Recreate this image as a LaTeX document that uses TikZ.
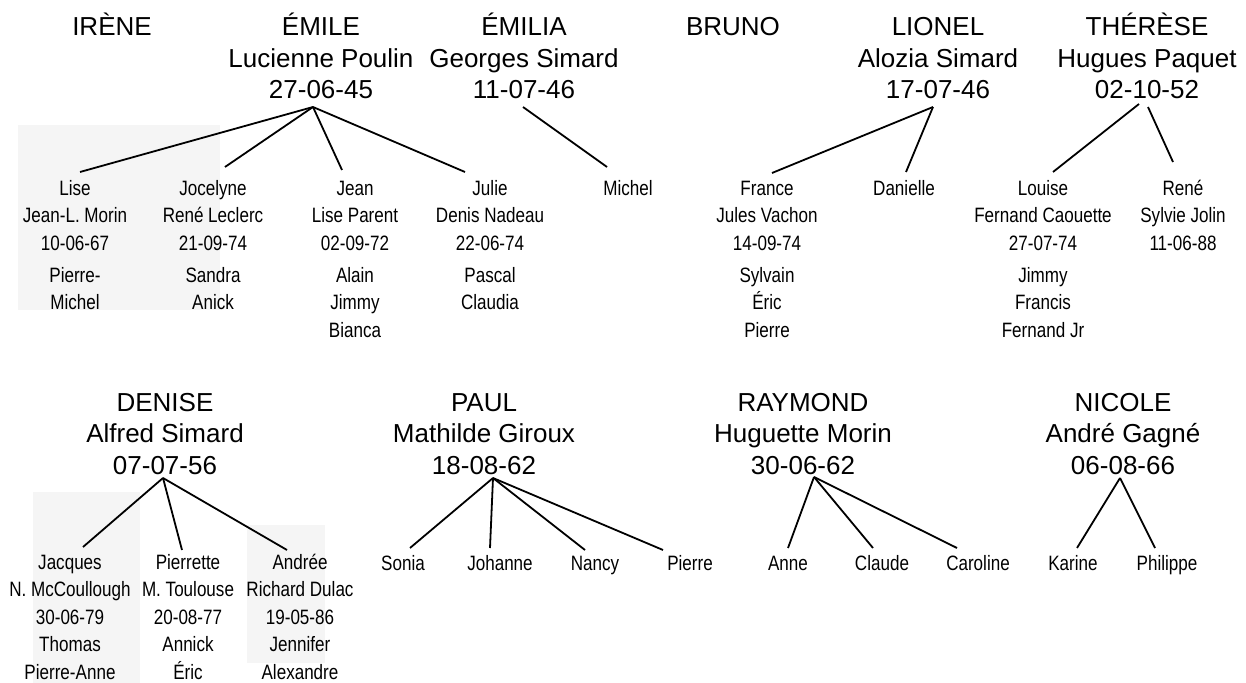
\documentclass[tikz,border=0pt]{standalone}
\usepackage{fontspec}
\setmainfont{Liberation Sans}
\newfontfamily\chefpolice{Liberation Sans}
\newfontfamily\enfantpolice[FakeStretch=0.82]{Liberation Sans}
\usepackage{tikz}

\begin{document}
\begin{tikzpicture}[x=0.5pt,y=-0.5pt,
  % anchor=base: ligne de base de la derniere ligne du noeud
  chef/.style={font=\chefpolice\fontsize{13}{15.75}\selectfont,
    align=center, anchor=base, inner sep=0pt},
  enfant/.style={font=\enfantpolice\fontsize{10.4}{13.75}\selectfont,
    align=center, anchor=base, inner sep=0pt},
  lien/.style={line width=0.9pt},
  tache/.style={fill=black!4, draw=none}
]
\useasboundingbox (0,0) rectangle (1246,683);
% taches grises du scan
\fill[tache] (18,125) rectangle (220,310);
\fill[tache] (33,492) rectangle (140,683);
\fill[tache] (247,525) rectangle (325,663);

% premiere rangee
\node[chef] (irene) at (112,36) {IRÈNE};
\node[chef] (emile) at (321,99) {ÉMILE\\Lucienne Poulin\\27-06-45};
\node[chef] (emilia) at (524,99) {ÉMILIA\\Georges Simard\\11-07-46};
\node[chef] (bruno) at (733,36) {BRUNO};
\node[chef] (lionel) at (938,99) {LIONEL\\Alozia Simard\\17-07-46};
\node[chef] (therese) at (1147,99) {THÉRÈSE\\Hugues Paquet\\02-10-52};

\node[enfant] (lise) at (75,310) {Lise\\Jean-L. Morin\\10-06-67\\[2.25pt]Pierre-\\Michel};
\node[enfant] (jocelyne) at (213,310) {Jocelyne\\René Leclerc\\21-09-74\\[2.25pt]Sandra\\Anick};
\node[enfant] (jean) at (355,337.5) {Jean\\Lise Parent\\02-09-72\\[2.25pt]Alain\\Jimmy\\Bianca};
\node[enfant] (julie) at (490,310) {Julie\\Denis Nadeau\\22-06-74\\[2.25pt]Pascal\\Claudia};
\node[enfant] (michel) at (628,195.5) {Michel};
\node[enfant] (france) at (767,337.5) {France\\Jules Vachon\\14-09-74\\[2.25pt]Sylvain\\Éric\\Pierre};
\node[enfant] (danielle) at (904,195.5) {Danielle};
\node[enfant] (louise) at (1043,337.5) {Louise\\Fernand Caouette\\27-07-74\\[2.25pt]Jimmy\\Francis\\Fernand Jr};
\node[enfant] (rene) at (1183,250.5) {René\\Sylvie Jolin\\11-06-88};

% deuxieme rangee
\node[chef] (denise) at (165,474) {DENISE\\Alfred Simard\\07-07-56};
\node[chef] (paul) at (484,474) {PAUL\\Mathilde Giroux\\18-08-62};
\node[chef] (raymond) at (803,474) {RAYMOND\\Huguette Morin\\30-06-62};
\node[chef] (nicole) at (1123,474) {NICOLE\\André Gagné\\06-08-66};

\node[enfant] (jacques) at (70,679) {Jacques\\N. McCoullough\\30-06-79\\Thomas\\Pierre-Anne};
\node[enfant] (pierrette) at (188,679) {Pierrette\\M. Toulouse\\20-08-77\\Annick\\Éric};
\node[enfant] (andree) at (300,679) {Andrée\\Richard Dulac\\19-05-86\\Jennifer\\Alexandre};
\node[enfant] (sonia) at (403,570.5) {Sonia};
\node[enfant] (johanne) at (500,570.5) {Johanne};
\node[enfant] (nancy) at (595,570.5) {Nancy};
\node[enfant] (pierrep) at (690,570.5) {Pierre};
\node[enfant] (anne) at (788,570.5) {Anne};
\node[enfant] (claude) at (882,570.5) {Claude};
\node[enfant] (caroline) at (978,570.5) {Caroline};
\node[enfant] (karine) at (1073,570.5) {Karine};
\node[enfant] (philippe) at (1167,570.5) {Philippe};

% points de depart et d'arrivee des traits
\coordinate (emile-a) at (313,107);
\coordinate (emilia-a) at (523,107);
\coordinate (lionel-a) at (933,107);
\coordinate (therese-a) at (1139,104);
\coordinate (therese-b) at (1148,107);
\coordinate (denise-a) at (163,478);
\coordinate (paul-a) at (493,478);
\coordinate (raymond-a) at (814,477);
\coordinate (nicole-a) at (1120,478);

\coordinate (lise-t) at (80,172);
\coordinate (jocelyne-t) at (225,167);
\coordinate (jean-t) at (342,170);
\coordinate (julie-t) at (465,172);
\coordinate (michel-t) at (607,167);
\coordinate (france-t) at (772,173);
\coordinate (danielle-t) at (906,172);
\coordinate (louise-t) at (1053,172);
\coordinate (rene-t) at (1173,162);
\coordinate (jacques-t) at (83,547);
\coordinate (pierrette-t) at (182,550);
\coordinate (andree-t) at (287,550);
\coordinate (sonia-t) at (410,548);
\coordinate (johanne-t) at (490,548);
\coordinate (nancy-t) at (585,550);
\coordinate (pierrep-t) at (663,550);
\coordinate (anne-t) at (788,548);
\coordinate (claude-t) at (873,548);
\coordinate (caroline-t) at (957,548);
\coordinate (karine-t) at (1077,548);
\coordinate (philippe-t) at (1155,548);

\foreach \a/\b in {emile-a/lise-t, emile-a/jocelyne-t, emile-a/jean-t,
  emile-a/julie-t, emilia-a/michel-t, lionel-a/france-t, lionel-a/danielle-t,
  therese-a/louise-t, therese-b/rene-t, denise-a/jacques-t,
  denise-a/pierrette-t, denise-a/andree-t, paul-a/sonia-t, paul-a/johanne-t,
  paul-a/nancy-t, paul-a/pierrep-t, raymond-a/anne-t, raymond-a/claude-t,
  raymond-a/caroline-t, nicole-a/karine-t, nicole-a/philippe-t}
  \draw[lien] (\a) -- (\b);
\end{tikzpicture}
\end{document}
